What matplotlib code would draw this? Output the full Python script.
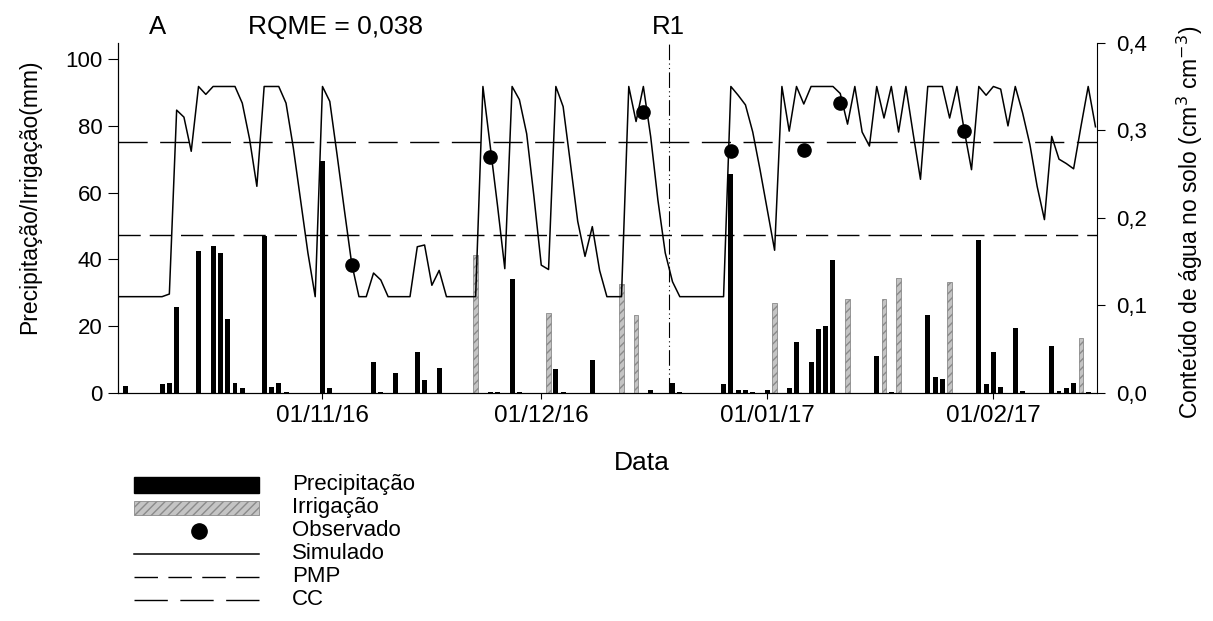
import numpy as np
import pandas as pd
import matplotlib
matplotlib.use("Agg")
import matplotlib.pyplot as plt
import matplotlib.dates as mdates
from matplotlib.patches import Rectangle
from matplotlib.ticker import FuncFormatter

plt.rcParams['font.family'] = ['Liberation Sans', 'DejaVu Sans']

# simulated soil water content, one value per day from 04/10/16
sim_start = "2016-10-04"
simulado = [
    0.110, 0.110, 0.110, 0.110, 0.110, 0.110, 0.110, 0.113, 0.323, 0.315,
    0.276, 0.350, 0.341, 0.350, 0.350, 0.350, 0.350, 0.331, 0.290, 0.236,
    0.350, 0.350, 0.350, 0.331, 0.280, 0.220, 0.160, 0.110, 0.350, 0.333,
    0.272, 0.209, 0.148, 0.110, 0.110, 0.137, 0.129, 0.110, 0.110, 0.110,
    0.110, 0.167, 0.169, 0.123, 0.140, 0.110, 0.110, 0.110, 0.110, 0.110,
    0.350, 0.282, 0.214, 0.142, 0.350, 0.335, 0.296, 0.224, 0.146, 0.141,
    0.350, 0.327, 0.262, 0.196, 0.156, 0.190, 0.140, 0.110, 0.110, 0.110,
    0.350, 0.310, 0.350, 0.293, 0.220, 0.160, 0.127, 0.110, 0.110, 0.110,
    0.110, 0.110, 0.110, 0.110, 0.350, 0.340, 0.329, 0.298, 0.255, 0.209,
    0.163, 0.350, 0.299, 0.350, 0.330, 0.350, 0.350, 0.350, 0.350, 0.342,
    0.307, 0.350, 0.298, 0.282, 0.350, 0.314, 0.350, 0.298, 0.350, 0.296,
    0.244, 0.350, 0.350, 0.350, 0.314, 0.350, 0.300, 0.255, 0.350, 0.340,
    0.350, 0.347, 0.305, 0.350, 0.320, 0.284, 0.236, 0.198, 0.293, 0.267,
    0.262, 0.256, 0.304, 0.350, 0.304,
]

obs_dates = ["2016-11-05", "2016-11-24", "2016-12-15", "2016-12-27",
             "2017-01-06", "2017-01-11", "2017-01-28"]
observado = [0.146, 0.270, 0.321, 0.276, 0.277, 0.331, 0.299]

prec_dates = [
    "2016-10-05", "2016-10-10", "2016-10-11", "2016-10-12", "2016-10-15",
    "2016-10-17", "2016-10-18", "2016-10-19", "2016-10-20", "2016-10-21",
    "2016-10-24", "2016-10-25", "2016-10-26", "2016-10-27", "2016-11-01",
    "2016-11-02", "2016-11-08", "2016-11-09", "2016-11-11", "2016-11-14",
    "2016-11-15", "2016-11-17", "2016-11-24", "2016-11-25", "2016-11-27",
    "2016-11-28", "2016-12-03", "2016-12-04", "2016-12-08", "2016-12-16",
    "2016-12-19", "2016-12-20", "2016-12-26", "2016-12-27", "2016-12-28",
    "2016-12-29", "2016-12-30", "2017-01-01", "2017-01-04", "2017-01-05",
    "2017-01-07", "2017-01-08", "2017-01-09", "2017-01-10", "2017-01-16",
    "2017-01-18", "2017-01-23", "2017-01-24", "2017-01-25", "2017-01-30",
    "2017-01-31", "2017-02-01", "2017-02-02", "2017-02-04", "2017-02-05",
    "2017-02-09", "2017-02-10", "2017-02-11", "2017-02-12", "2017-02-14",
]
precipitacao = [
    2.2, 2.6, 3.1, 25.7, 42.6, 44.0, 41.8, 22.2, 3.1, 1.4,
    47.1, 1.8, 3.1, 0.3, 69.5, 1.6, 9.2, 0.4, 5.9, 12.3,
    4.0, 7.4, 0.3, 0.3, 34.0, 0.3, 7.2, 0.3, 9.8, 0.8,
    3.1, 0.4, 2.7, 65.5, 1.0, 0.8, 0.4, 1.0, 1.5, 15.4,
    9.4, 19.1, 20.1, 39.8, 11.1, 0.3, 23.4, 4.7, 4.2, 45.8,
    2.6, 12.4, 1.9, 19.4, 0.6, 14.1, 0.6, 1.6, 3.1, 0.3,
]

irr_dates = ["2016-11-22", "2016-12-02", "2016-12-12", "2016-12-14",
             "2017-01-02", "2017-01-12", "2017-01-17", "2017-01-19",
             "2017-01-26", "2017-02-13"]
irrigacao = [41.3, 23.9, 32.5, 23.3, 26.9, 28.1, 28.0, 34.3, 33.3, 16.6]

pmp = 0.18
cc = 0.287
r1_date = "2016-12-18 14:00"

sim_x = pd.date_range(sim_start, periods=len(simulado), freq="D")

fig = plt.figure(figsize=(12.13, 6.21), dpi=100)
ax = fig.add_axes([118 / 1213, 1 - 393 / 621, 979 / 1213, 350.3 / 621])
ax2 = ax.twinx()

ax.bar(pd.to_datetime(prec_dates), precipitacao, width=0.68, color="black", zorder=2)
ax.bar(pd.to_datetime(irr_dates), irrigacao, width=0.62, facecolor="#c4c4c4",
       edgecolor="#8a8a8a", hatch="////", linewidth=0.6, zorder=2)

ax2.axhline(cc, color="black", lw=1.0, dashes=(21, 9))
ax2.axhline(pmp, color="black", lw=1.0, dashes=(16, 6.5))
ax2.plot(sim_x, simulado, color="black", lw=1.1)
ax2.plot(pd.to_datetime(obs_dates), observado, "o", color="black", ms=9.5)
ax2.axvline(pd.Timestamp(r1_date), color="black", lw=0.8,
            linestyle=(0, (14, 3, 1, 3, 1, 3)))

ax.set_xlim(pd.Timestamp("2016-10-04") - pd.Timedelta(hours=1),
            pd.Timestamp("2017-02-15 05:00"))
ax.set_ylim(0, 104.9)
ax2.set_ylim(0, 0.4)
ax.set_yticks([0, 20, 40, 60, 80, 100])
ax2.set_yticks([0.0, 0.1, 0.2, 0.3, 0.4])
ax2.yaxis.set_major_formatter(FuncFormatter(lambda v, p: f"{v:.1f}".replace(".", ",")))
ax.xaxis.set_major_locator(mdates.MonthLocator(bymonthday=1))
ax.xaxis.set_major_formatter(mdates.DateFormatter("%d/%m/%y"))

for a in (ax, ax2):
    a.spines["top"].set_visible(False)
    for s in a.spines.values():
        s.set_linewidth(0.8)
ax.spines["right"].set_visible(False)
ax.tick_params(axis="y", direction="out", length=7, width=0.8, labelsize=16, pad=4)
ax.tick_params(axis="x", direction="out", length=4.5, width=0.8, labelsize=17.5, pad=4)
ax2.tick_params(axis="y", direction="out", length=6, width=0.8, labelsize=16, pad=8)

fig.text(30 / 1213, 1 - 197 / 621, "Precipitação/Irrigação(mm)", rotation=90,
         ha="center", va="center", fontsize=16.5)
fig.text(1190 / 1213, 1 - 222 / 621, "Conteúdo de água no solo (cm$^{3}$ cm$^{-3}$)",
         rotation=90, ha="center", va="center", fontsize=16.5)
fig.text(642 / 1213, 1 - 463 / 621, "Data", ha="center", va="center", fontsize=19)
fig.text(158 / 1213, 1 - 27 / 621, "A", ha="center", va="center", fontsize=18.5)
fig.text(336 / 1213, 1 - 27 / 621, "RQME = 0,038", ha="center", va="center", fontsize=19)
fig.text(668 / 1213, 1 - 27 / 621, "R1", ha="center", va="center", fontsize=18.5)

# legend drawn in pixel coordinates below the plot
lax = fig.add_axes([120 / 1213, 0, 320 / 1213, 150 / 621])
lax.set_xlim(120, 440)
lax.set_ylim(621, 471)
lax.axis("off")
rows = [485, 508, 531, 554, 577, 600]
labels = ["Precipitação", "Irrigação", "Observado", "Simulado", "PMP", "CC"]
lax.add_patch(Rectangle((134, rows[0] - 8), 125, 16, color="black"))
lax.add_patch(Rectangle((134, rows[1] - 7), 125, 14, facecolor="#c4c4c4",
                        edgecolor="#8a8a8a", hatch="////", linewidth=0.6))
lax.plot([199], [rows[2]], "o", color="black", ms=11)
lax.plot([134, 259], [rows[3], rows[3]], color="black", lw=1.1)
lax.plot([134, 259], [rows[4], rows[4]], color="black", lw=1.0, dashes=(16.9, 7.5))
lax.plot([134, 259], [rows[5], rows[5]], color="black", lw=1.0, dashes=(24, 9))
for r, lab in zip(rows, labels):
    lax.text(292, r, lab, ha="left", va="center", fontsize=16)

fig.savefig("out.png", dpi=100)
